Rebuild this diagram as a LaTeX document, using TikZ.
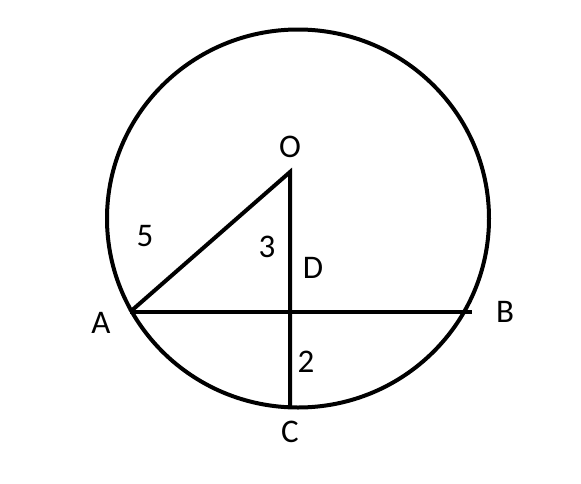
\documentclass[tikz,border=0pt]{standalone}
\usepackage{fontspec}
\setmainfont{Carlito}
\begin{document}
\begin{tikzpicture}[x=1pt,y=-1pt,line width=4pt,
  lbl/.style={font=\fontsize{33}{33}\selectfont,inner sep=0pt}]
\useasboundingbox (0,0) rectangle (581,483);
\coordinate (Z) at (298,218.5);
\coordinate (O) at (290,172);
\coordinate (A) at (130,312);
\coordinate (B) at (472,312);
\coordinate (D) at (290,312);
\coordinate (C) at (290,408);
\draw (Z) ellipse [x radius=191, y radius=189];
\draw (A) -- (B);
\draw (A) -- (O) -- (C);
\node[lbl] (lO) at (290,147) {O};
\node[lbl] (l5) at (145,236) {5};
\node[lbl] (l3) at (267,247) {3};
\node[lbl] (lD) at (313,268) {D};
\node[lbl] (lA) at (101,323) {A};
\node[lbl] (lB) at (505,312) {B};
\node[lbl] (l2) at (306,362) {2};
\node[lbl] (lC) at (290,432) {C};
\end{tikzpicture}
\end{document}
